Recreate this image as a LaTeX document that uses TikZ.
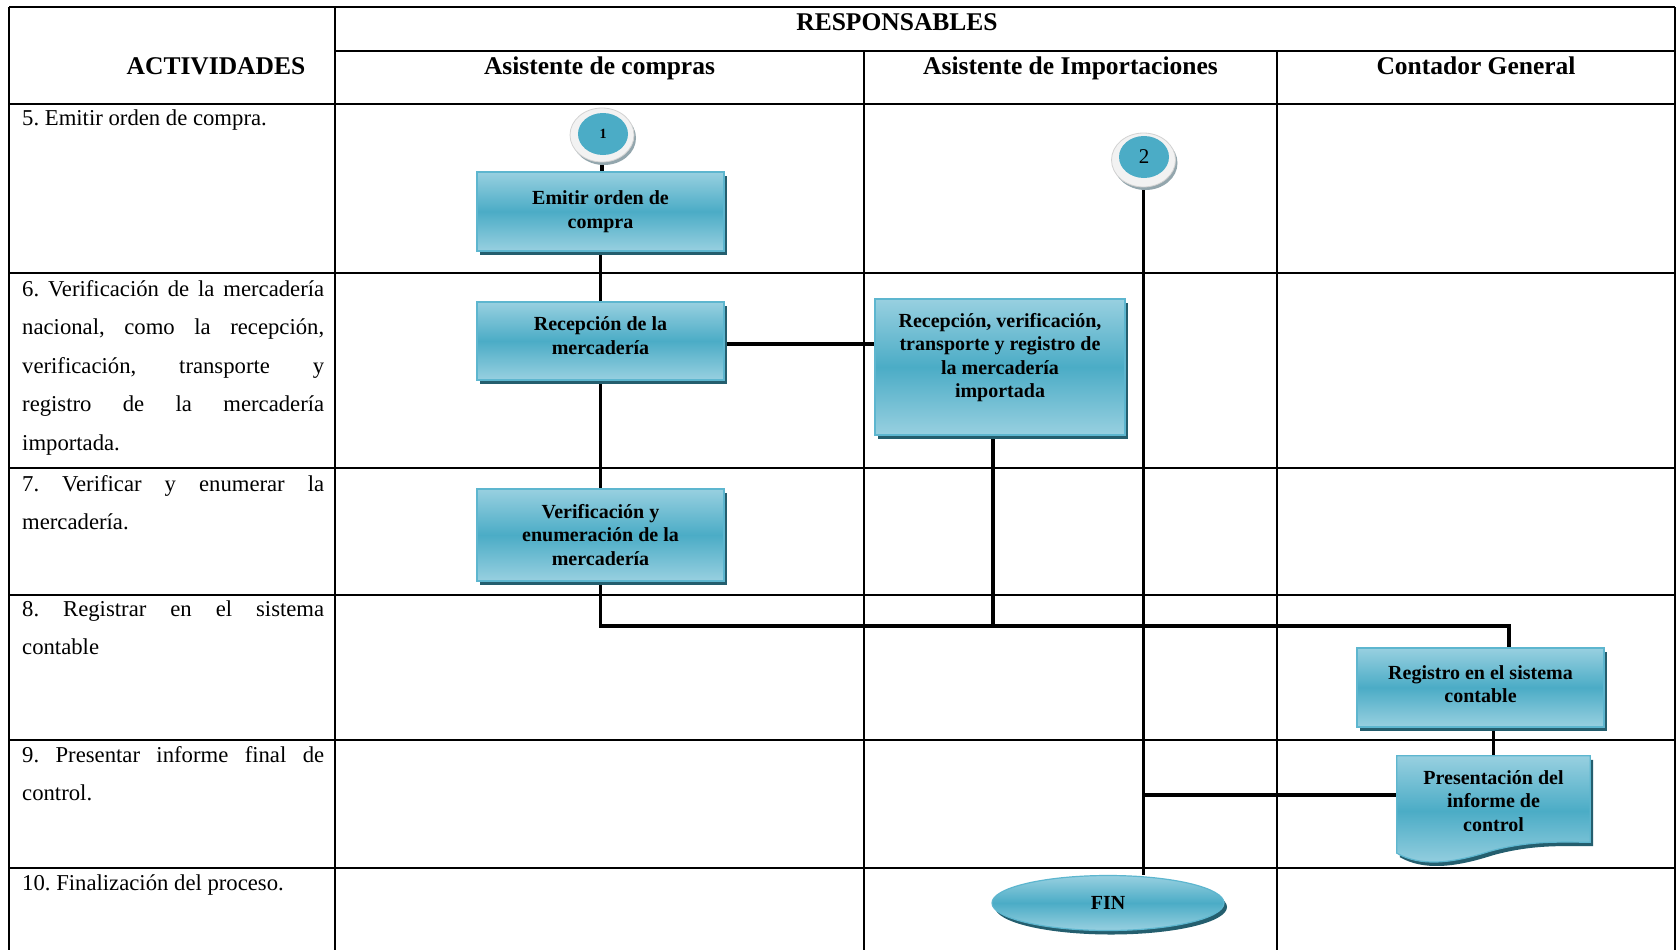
\documentclass[tikz,border=0pt]{standalone}
\usepackage{fontspec}
\setmainfont{Liberation Serif}
\usetikzlibrary{backgrounds,shadows,shapes.geometric,calc}

\definecolor{boxlight}{HTML}{98D0E0}
\definecolor{boxmid}{HTML}{4BACC6}
\definecolor{boxedge}{HTML}{5DB6CF}
\definecolor{boxshadow}{HTML}{245E6E}
\definecolor{discface}{HTML}{F2F2F2}
\definecolor{discrim}{HTML}{93A6AD}

\hyphenpenalty=10000
\exhyphenpenalty=10000
\frenchspacing

\tikzset{
  tableline/.style={line width=2.5pt},
  link/.style={line width=3.6pt},
  tealfill/.style={top color=boxlight, bottom color=boxlight, middle color=boxmid,
    drop shadow={shadow xshift=3pt, shadow yshift=-4pt, fill=boxshadow, opacity=1}},
  task/.style={rectangle, draw=boxedge, line width=1.2pt, tealfill, align=center,
    font=\fontsize{20}{23.5}\selectfont\bfseries, inner sep=0pt},
  docshape/.style={draw=boxedge, line width=1.2pt, tealfill},
  boxtext/.style={align=center, font=\fontsize{20}{23.5}\selectfont\bfseries, inner sep=0pt},
  headtext/.style={anchor=base, inner sep=0pt, font=\fontsize{25.5}{30}\selectfont\bfseries},
  rowtext/.style={anchor=base west, text width=302pt, align=justify, inner sep=0pt,
    font=\fontsize{22.7}{38.5}\selectfont},
  disc/.style={ellipse, fill=discface, draw=gray!35, line width=0.8pt, inner sep=0pt,
    minimum width=64pt, minimum height=54pt,
    drop shadow={shadow xshift=2pt, shadow yshift=-3pt, fill=discrim, opacity=1}},
  discin/.style={ellipse, fill=boxmid, inner sep=0pt, minimum width=50pt, minimum height=42pt},
}

\begin{document}
\begin{tikzpicture}[x=1pt, y=-1pt]
\useasboundingbox (0,0) rectangle (1677,950);

% header texts
\node[headtext] (hresp) at (897,31) {RESPONSABLES};
\node[headtext] (hact) at (216,74.5) {ACTIVIDADES};
\node[headtext] (hcomp) at (599.5,74.5) {Asistente de compras};
\node[headtext] (himp) at (1070.5,74.5) {Asistente de Importaciones};
\node[headtext] (hcont) at (1476,74.5) {Contador General};

% activity descriptions
\node[rowtext] (r5) at (22,125) {5. Emitir orden de compra.};
\node[rowtext] (r6) at (22,296) {6. Verificación de la mercadería\linebreak nacional, como la recepción,\linebreak verificación, transporte y\linebreak registro de la mercadería\linebreak importada.};
\node[rowtext] (r7) at (22,491) {7. Verificar y enumerar la\linebreak mercadería.};
\node[rowtext] (r8) at (22,616) {8. Registrar en el sistema\linebreak contable};
\node[rowtext] (r9) at (22,762) {9. Presentar informe final de\linebreak control.};
\node[rowtext] (r10) at (22,890) {10. Finalización del proceso.};

% connector discs
\node[disc] (c1) at (602,135) {};
\node[discin, font=\fontsize{14}{16}\selectfont\bfseries] (c1in) at (603,134) {1};
\node[disc] (c2) at (1143.5,160) {};
\node[discin, font=\fontsize{21}{24}\selectfont] (c2in) at (1144,157) {2};

% process boxes
\node[task, minimum width=247pt, minimum height=79pt] (b1) at (600.5,211.5) {Emitir orden de\\compra};
\node[task, minimum width=247pt, minimum height=78pt] (b2) at (600.5,341) {Recepción de la\\mercadería\\[-12.8pt]};
\node[task, minimum width=250pt, minimum height=136pt] (b3) at (1000,367) {Recepción, verificación,\\transporte y registro de\\la mercadería\\importada\\\mbox{}};
\node[task, minimum width=247pt, minimum height=92pt] (b4) at (600.5,535) {Verificación y\\enumeración de la\\mercadería};
\node[task, minimum width=247pt, minimum height=79pt] (b5) at (1480.5,687.5) {Registro en el sistema\\contable\\[-17pt]};

% document shape
\node[inner sep=0pt, minimum width=193pt, minimum height=78pt] (b6) at (1493.5,795) {};
\path[docshape] (b6.north west) -- (b6.north east) -- ($(b6.south east)+(0,8)$)
  .. controls ($(b6.south east)+(-30,8)$) and ($(b6.south east)+(-60,6)$) .. ($(b6.south)+(-3.5,17)$)
  .. controls ($(b6.south west)+(53,30)$) and ($(b6.south west)+(23,32)$) .. ($(b6.south west)+(0,19)$)
  -- cycle;
\node[boxtext] (b6t) at ($(b6)+(0,6)$) {Presentación del\\informe de\\control};

% end terminator
\node[ellipse, draw=boxedge, line width=1.2pt, tealfill, inner sep=0pt,
  minimum width=232pt, minimum height=55pt,
  font=\fontsize{20}{23.5}\selectfont\bfseries] (fin) at (1108,903) {FIN};

\coordinate (j3) at (993,626);
\coordinate (jr) at (1509,626);
\coordinate (b2out) at ($(b2.east)+(0,3)$);

\begin{scope}[on background layer]
  \fill[white] (0,0) rectangle (1677,950);
  % table grid
  \draw[tableline] (9,7) -- (1675,7);
  \draw[tableline] (335,51) -- (1675,51);
  \foreach \yy in {104,273,468,595,740,868}
    \draw[tableline] (9,\yy) -- (1675,\yy);
  \draw[tableline] (9,7) -- (9,950);
  \draw[tableline] (1675,7) -- (1675,950);
  \draw[tableline] (335,7) -- (335,950);
  \draw[tableline] (864,51) -- (864,950);
  \draw[tableline] (1277,51) -- (1277,950);
  % flow connectors
  \draw[link] (c1.south) -- (c1.south |- b1.north);
  \draw[link] (b1.south) -- (b2.north);
  \draw[link] (b2out) -- (b3.west |- b2out);
  \draw[link] (b2.south) -- (b4.north);
  \draw[link] (b4.south) |- (jr) -- (jr |- b5.north);
  \draw[link] (j3 |- b3.south) -- (j3);
  \draw[link] (c2.south) -- (c2.south |- fin.north);
  \draw[link] (b6.north |- b5.south) -- (b6.north);
  \draw[link] (b6.west) -- (b6.west -| c2.south);
\end{scope}
\end{tikzpicture}
\end{document}
